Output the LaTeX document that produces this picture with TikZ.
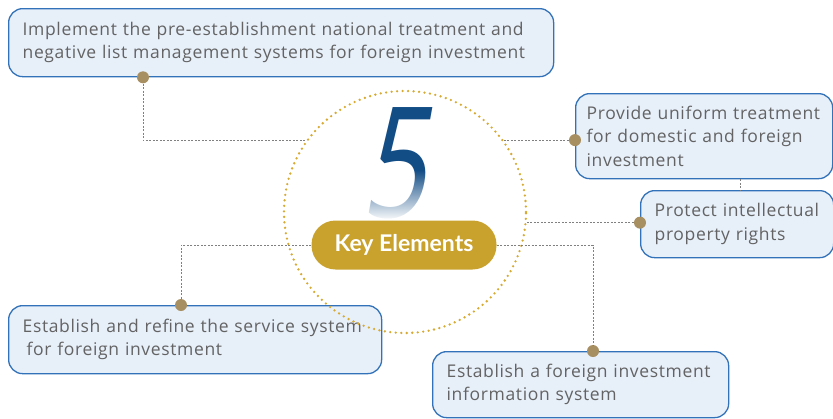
\documentclass[tikz,border=0pt]{standalone}
\usepackage{fontspec}
\setmainfont[LetterSpace=3.7]{Open Sans}
\newfontfamily\fivefont{Noto Sans}
\newfontfamily\keyfont{Lato}
\usepackage{tikz}
\usetikzlibrary{fadings,calc}

\definecolor{boxfill}{HTML}{E7EFF9}
\definecolor{boxline}{HTML}{3272B8}
\definecolor{pincol}{HTML}{A88F62}
\definecolor{goldcol}{HTML}{C9A22E}
\definecolor{ringcol}{HTML}{D6AA33}
\definecolor{fiveblue}{HTML}{134D86}
\definecolor{txtgray}{HTML}{636363}
\definecolor{linkgray}{HTML}{808080}

\tikzfading[name=fadedown, top color=transparent!100, bottom color=transparent!0]

\begin{document}
\begin{tikzpicture}[x=1pt, y=-1pt,
	item/.style={draw=boxline, line width=1.3pt, fill=boxfill, rounded corners=14pt, anchor=north west,
		align=left, inner xsep=14pt, inner ysep=0pt, text=txtgray, font=\fontsize{17.5}{23.5}\selectfont},
	pin/.style={circle, fill=pincol, inner sep=0pt, minimum size=12pt},
	link/.style={draw=linkgray, line width=0.8pt, dash pattern=on 2pt off 1.5pt}]
\useasboundingbox (0,0) rectangle (833,418);

% the five boxes
\node[item, minimum width=545pt, minimum height=68pt, text width=517pt] (implement) at (8,8)
	{Implement the pre-establishment national treatment and\\negative list management systems for foreign investment};
\node[item, minimum width=257pt, minimum height=85pt, text width=235pt, inner xsep=11pt] (provide) at (575,93)
	{\makebox[233pt][s]{Provide uniform treatment}\\\makebox[233pt][s]{for domestic and foreign}\\investment};
\node[item, minimum width=193pt, minimum height=67pt, text width=165pt] (protect) at (640,190)
	{Protect intellectual\\property rights};
\node[item, minimum width=373pt, minimum height=68pt, text width=345pt] (service) at (8,305)
	{Establish and refine the service system\\\hspace*{4pt}for foreign investment};
\node[item, minimum width=296pt, minimum height=66pt, text width=268pt] (info) at (432,351)
	{Establish a foreign investment\\information system};

% centre
\node[circle, minimum size=242pt, draw=ringcol, line width=2.6pt, line cap=round,
	dash pattern=on 0pt off 5.5pt] (ring) at (405,212) {};
\node[text=fiveblue, font=\fivefont\fontsize{154}{154}\selectfont, xslant=0.18, xscale=0.72, inner sep=0pt] (five) at (403,163) {5};
\fill[white, path fading=fadedown] (350,170) rectangle (460,221);
\node[fill=goldcol, rounded corners=24pt, minimum width=185pt, minimum height=49pt, text=white,
	font=\keyfont\bfseries\fontsize{23}{23}\selectfont] (key) at (404,245) {Key Elements};

% pins
\node[pin] (d1) at (implement.south -| 143,0) {};
\node[pin] (d2) at (ring.36 -| provide.west) {};
\node[pin] (d3) at (ring.-5 -| protect.west) {};
\node[pin] (d4) at (service.north -| 181,0) {};
\node[pin] (d5) at (info.north -| 593,0) {};

% links
\draw[link] (d1) |- (ring.144);
\draw[link] (ring.36) -- (d2);
\draw[link] (ring.-5) -- (d3);
\draw[link] (key.west) -| (d4);
\draw[link] (key.east) -| (d5);
\draw[link] (provide.south -| 740,0) -- (protect.north -| 740,0);
\end{tikzpicture}
\end{document}
